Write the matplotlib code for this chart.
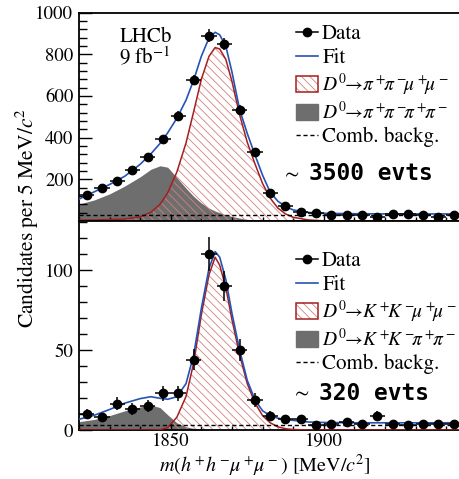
import matplotlib.pyplot as plt
from matplotlib.lines import Line2D
from matplotlib.patches import Patch
from matplotlib.ticker import MultipleLocator

plt.rcParams['font.family'] = 'STIXGeneral'
plt.rcParams['mathtext.fontset'] = 'stix'
plt.rcParams['hatch.linewidth'] = 0.6

# 5 MeV bins
bins = [1822.5, 1827.5, 1832.5, 1837.5, 1842.5, 1847.5, 1852.5, 1857.5, 1862.5,
        1867.5, 1872.5, 1877.5, 1882.5, 1887.5, 1892.5, 1897.5, 1902.5, 1907.5,
        1912.5, 1917.5, 1922.5, 1927.5, 1932.5, 1937.5, 1942.5]
bin_half = 2.5

# D0 -> pi pi mu mu
pipi_counts = [127, 158, 190, 243, 306, 394, 505, 676, 889, 849, 533, 330, 132,
               73, 44, 40, 29, 29, 29, 20, 32, 32, 29, 20, 29]
pipi_errs = [11, 13, 14, 16, 17, 20, 22, 26, 30, 29, 23, 18, 11, 9, 7, 6, 5, 5,
             5, 4, 6, 6, 5, 4, 5]

# D0 -> K K mu mu
kk_counts = [10, 8, 16.5, 13, 15, 23, 23, 44, 110, 90, 50, 19, 9, 7, 7, 3, 4, 5,
             4, 9, 3.5, 3, 3.5, 3.5, 3.5]
kk_errs = [3.2, 2.8, 4.1, 3.6, 3.9, 4.8, 4.8, 6.6, 10.5, 9.5, 7.1, 4.4, 3.0, 2.6,
           2.6, 1.7, 2.0, 2.2, 2.0, 3.0, 1.9, 1.7, 1.9, 1.9, 1.9]

# fit components
m_curve = [1820, 1825, 1830, 1835, 1840, 1843.5, 1846.5, 1849, 1852, 1855, 1857.5,
           1860, 1862.5, 1864.5, 1866, 1868, 1870, 1872.5, 1875, 1877.5, 1880,
           1882.5, 1885, 1887.5, 1890, 1895, 1900, 1910, 1920, 1930, 1945]

pipi_fit = [105, 140, 175, 215, 272, 322, 372, 423, 493, 580, 676, 790, 878, 905,
            893, 838, 715, 535, 420, 318, 220, 138, 95, 70, 53, 41, 37, 35, 34, 34, 34]
pipi_sig = [4, 5, 7, 10, 20, 42, 80, 135, 235, 375, 525, 680, 790, 832, 825, 775,
            670, 510, 378, 275, 180, 110, 62, 34, 18, 5, 1, 0, 0, 0, 0]
pipi_misid = [81, 101, 130, 168, 212, 248, 265, 258, 208, 157, 118, 86, 62, 48, 40,
              30, 22, 14, 8, 4, 2, 1, 0, 0, 0, 0, 0, 0, 0, 0, 0]

kk_fit = [6.7, 9.2, 12.8, 16.8, 19.6, 20.8, 19.8, 19.2, 20.8, 29, 47, 76, 101,
          111.5, 108, 94, 73, 50, 31, 19, 12, 9, 7.4, 6.5, 6, 5, 4.7, 4.5, 4.5, 4.5, 4.5]
kk_sig = [0, 0, 0, 0, 0, 0, 0.2, 1.5, 8, 21, 42, 72, 97, 108, 103, 89, 69, 47, 29,
          17, 9, 4.5, 2, 0.8, 0.3, 0, 0, 0, 0, 0, 0]
kk_misid = [5.2, 6.6, 9, 12, 14.4, 15.6, 14, 9.5, 4.5, 2, 1, 0.5, 0.2, 0, 0, 0, 0,
            0, 0, 0, 0, 0, 0, 0, 0, 0, 0, 0, 0, 0, 0]

comb_x = [1820, 1945]
pipi_comb = [28, 28]
kk_comb = [3.3, 3.3]

blue = '#2752b5'
red_line = '#a31f1f'
red_hatch = '#d48080'
grey = '#6e6e6e'
hatch = '\\\\\\\\'


def draw_panel(ax, counts, errs, fit, sig, misid, comb):
    ax.fill_between(m_curve, 0, misid, color=grey, lw=0, zorder=1)
    ax.fill_between(m_curve, 0, sig, facecolor='none', edgecolor=red_hatch,
                    hatch=hatch, lw=0, zorder=2)
    ax.plot(m_curve, sig, color=red_line, lw=1.1, zorder=3)
    ax.plot(comb_x, comb, color='k', lw=1, ls=(0, (3, 2)), zorder=3)
    ax.plot(m_curve, fit, color=blue, lw=1.2, zorder=4)
    ax.errorbar(bins, counts, xerr=bin_half, yerr=errs, fmt='o', color='k',
                ms=6, lw=1.1, capsize=0, zorder=5)
    ax.set_xlim(1820, 1944.2)
    ax.xaxis.set_major_locator(MultipleLocator(50))
    ax.xaxis.set_minor_locator(MultipleLocator(10))
    ax.tick_params(which='both', direction='in', top=False, right=False,
                   width=1, labelsize=13.5)
    ax.tick_params(axis='x', which='major', length=5, pad=2)
    ax.tick_params(axis='x', which='minor', length=3)
    ax.tick_params(axis='y', which='major', length=9.4, pad=4)
    ax.tick_params(axis='y', which='minor', length=5.5)
    ax.spines['right'].set_visible(False)
    for s in ['top', 'bottom', 'left']:
        ax.spines[s].set_linewidth(1.3)


def add_legend(ax, sig_label, misid_label, top):
    handles = [Line2D([], [], color='k', marker='o', ms=6, lw=1.1),
               Line2D([], [], color=blue, lw=1.2),
               (Patch(facecolor='white', edgecolor=red_hatch, hatch=hatch, lw=0),
                Patch(facecolor='none', edgecolor=red_line, lw=1.1)),
               Patch(facecolor=grey, edgecolor=grey),
               Line2D([], [], color='k', lw=1, ls=(0, (3, 2)))]
    labels = ['Data', 'Fit', sig_label, misid_label, 'Comb. backg.']
    leg = ax.legend(handles, labels, loc='upper left', bbox_to_anchor=(0.571, top),
                    frameon=False, fontsize=15, handlelength=1.06, handleheight=0.82,
                    handletextpad=0.2, labelspacing=0.17, borderpad=0, borderaxespad=0)
    # the decay labels are a bit tighter in the original
    for t in leg.get_texts()[2:4]:
        t.set_fontsize(14)


fig = plt.figure(figsize=(4.59, 4.79), dpi=100)
ax1 = fig.add_axes([0.172, 0.5386, 0.828, 0.4353])
ax2 = fig.add_axes([0.172, 0.1023, 0.828, 0.4363])

draw_panel(ax1, pipi_counts, pipi_errs, pipi_fit, pipi_sig, pipi_misid, pipi_comb)
ax1.set_ylim(0, 1000)
ax1.set_yticks([200, 400, 600, 800, 1000])
ax1.yaxis.set_minor_locator(MultipleLocator(40))
ax1.set_xticklabels([])
add_legend(ax1, r'$D^0\!\!\rightarrow\!\pi^+\!\!\pi^-\!\!\mu^+\!\!\mu^-$',
           r'$D^0\!\!\rightarrow\!\pi^+\!\!\pi^-\!\!\pi^+\!\!\pi^-$', 0.945)
ax1.text(0.176, 0.882, 'LHCb', transform=ax1.transAxes, ha='center', va='center', fontsize=15)
ax1.text(0.172, 0.787, r'9 fb$^{-1}$', transform=ax1.transAxes, ha='center', va='center', fontsize=15)
ax1.text(0.555, 0.23, r'$\sim$', transform=ax1.transAxes, ha='center', va='center', fontsize=15)
ax1.text(0.605, 0.23, '3500 evts', transform=ax1.transAxes, ha='left', va='center',
         fontsize=16.5, family='DejaVu Sans Mono', weight='bold')

draw_panel(ax2, kk_counts, kk_errs, kk_fit, kk_sig, kk_misid, kk_comb)
ax2.set_ylim(0, 130.6)
ax2.set_yticks([0, 50, 100])
ax2.yaxis.set_minor_locator(MultipleLocator(10))
add_legend(ax2, r'$D^0\!\!\rightarrow\!K^+\!\!K^-\!\!\mu^+\!\!\mu^-$',
           r'$D^0\!\!\rightarrow\!K^+\!\!K^-\!\!\pi^+\!\!\pi^-$', 0.856)
ax2.text(0.582, 0.177, r'$\sim$', transform=ax2.transAxes, ha='center', va='center', fontsize=15)
ax2.text(0.632, 0.177, '320 evts', transform=ax2.transAxes, ha='left', va='center',
         fontsize=16.5, family='DejaVu Sans Mono', weight='bold')
ax2.set_xlabel(r'$m(h^+\!h^-\!\mu^+\!\mu^-)$ [MeV/$c^2$]', fontsize=14.5)
ax2.xaxis.label.set_va('center')
ax2.xaxis.set_label_coords(0.49, -0.172)

fig.text(0.059, 0.546, r'Candidates per 5 MeV/$c^2$', rotation=90, ha='center',
         va='center', fontsize=15.5)

fig.savefig('out.png', dpi=100)
